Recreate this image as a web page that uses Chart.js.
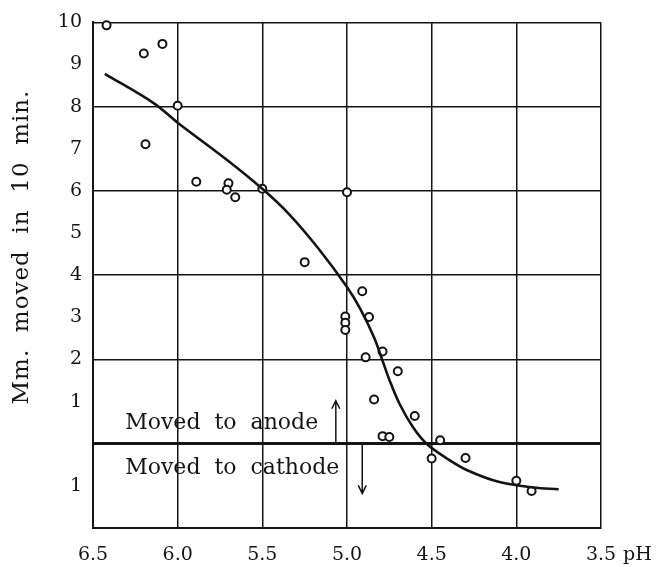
<!DOCTYPE html>
<html>
<head>
<meta charset="utf-8">
<script src="https://cdn.jsdelivr.net/npm/chart.js@4.4.1/dist/chart.umd.min.js"></script>
<style>
  html, body { margin: 0; padding: 0; background: #fff; }
  #wrap { width: 659px; height: 567px; }
</style>
</head>
<body>
<div id="wrap"><canvas id="myChart"></canvas></div>
<script>
// readings: pH and mm moved in 10 min (negative = moved to cathode)
const pointPH = [6.42, 6.20, 6.09, 6.00, 6.19, 5.89, 5.70, 5.71, 5.66, 5.50, 5.25, 5.00, 4.91, 5.01, 5.01, 5.01, 4.87, 4.89, 4.79, 4.70, 4.84, 4.60, 4.79, 4.75, 4.45, 4.50, 4.30, 4.00, 3.91];
const pointMm = [9.93, 9.26, 9.49, 8.02, 7.11, 6.22, 6.18, 6.03, 5.85, 6.05, 4.31, 5.97, 3.62, 3.02, 2.87, 2.70, 3.01, 2.05, 2.19, 1.72, 1.05, 0.66, 0.18, 0.16, 0.08, -0.35, -0.34, -0.88, -1.12];

// the smooth curve drawn through them
const curvePH = [6.43, 6.14, 6.00, 5.71, 5.50, 5.34, 5.17, 5.00, 4.92, 4.84, 4.79, 4.75, 4.69, 4.61, 4.53, 4.41, 4.29, 4.10, 3.90, 3.75];
const curveMm = [8.78, 8.08, 7.62, 6.74, 6.05, 5.44, 4.64, 3.72, 3.19, 2.52, 1.97, 1.52, 0.95, 0.39, 0.00, -0.35, -0.63, -0.91, -1.04, -1.08];

const phTicks = [6.5, 6.0, 5.5, 5.0, 4.5, 4.0, 3.5];
const mmTicks = [-2, -1, 0, 1, 2, 3, 4, 5, 6, 7, 8, 9, 10];
const mmTickLabels = ['', '1', '', '1', '2', '3', '4', '5', '6', '7', '8', '9', '10'];

const FONT = '"DejaVu Serif", "Liberation Serif", serif';
const INK = '#141414';

function arrow(ctx, x, y0, y1) {
    const dir = y1 < y0 ? -1 : 1;
    ctx.beginPath();
    ctx.moveTo(x, y0);
    ctx.lineTo(x, y1);
    ctx.moveTo(x - 4, y1 - dir * 8);
    ctx.lineTo(x, y1);
    ctx.lineTo(x + 4, y1 - dir * 8);
    ctx.stroke();
}

const notes = {
    id: 'notes',
    afterDraw(chart) {
        const ctx = chart.ctx;
        const x = chart.scales.x, y = chart.scales.y;
        ctx.save();
        ctx.fillStyle = INK;
        ctx.strokeStyle = INK;

        // y axis title
        ctx.save();
        ctx.font = '23px ' + FONT;
        ctx.letterSpacing = '1px';
        ctx.translate(28, 247);
        ctx.rotate(-Math.PI / 2);
        ctx.textAlign = 'center';
        ctx.textBaseline = 'alphabetic';
        ctx.fillText('Mm.  moved  in  10  min.', 0, 0);
        ctx.restore();

        // anode / cathode notes
        ctx.font = '22px ' + FONT;
        ctx.textAlign = 'left';
        ctx.textBaseline = 'alphabetic';
        ctx.fillText('Moved  to  anode', x.getPixelForValue(6.31), y.getPixelForValue(0.355));
        ctx.fillText('Moved  to  cathode', x.getPixelForValue(6.31), y.getPixelForValue(-0.71));
        ctx.lineWidth = 1.5;
        arrow(ctx, x.getPixelForValue(5.066), y.getPixelForValue(0.04), y.getPixelForValue(1.02));
        arrow(ctx, x.getPixelForValue(4.91), y.getPixelForValue(0), y.getPixelForValue(-1.18));

        // "pH" after the last tick label
        const items = x.getLabelItems ? x.getLabelItems() : [];
        const last = items.find(it => it.label === '3.5');
        if (last) {
            ctx.font = '19px ' + FONT;
            const w = ctx.measureText('3.5').width;
            ctx.textAlign = 'left';
            ctx.textBaseline = last.options.textBaseline;
            ctx.fillText('pH', last.options.translation[0] + w / 2 + 7, last.options.translation[1] + (last.textOffset || 0));
        }
        ctx.restore();
    }
};

const points = pointPH.map((p, i) => ({ x: p, y: pointMm[i] }));
const curve = curvePH.map((p, i) => ({ x: p, y: curveMm[i] }));

new Chart('myChart', {
    type: 'scatter',
    data: {
        datasets: [{
            label: 'curve',
            data: curve,
            showLine: true,
            borderColor: INK,
            borderWidth: 2.6,
            pointRadius: 0,
            tension: 0.35,
            fill: false
        }, {
            label: 'readings',
            data: points,
            pointStyle: 'circle',
            pointRadius: 4,
            pointBorderWidth: 2,
            pointBorderColor: INK,
            pointBackgroundColor: '#fff',
            clip: false
        }]
    },
    options: {
        responsive: true,
        maintainAspectRatio: false,
        animation: false,
        layout: { padding: { top: 20, right: 58, left: 0, bottom: 0 } },
        plugins: { legend: { display: false }, tooltip: { enabled: false } },
        scales: {
            x: {
                type: 'linear',
                reverse: true,
                min: 3.5,
                max: 6.5,
                afterBuildTicks: s => { s.ticks = phTicks.map(v => ({ value: v })); },
                afterFit: s => { s.height = 39; },
                grid: { color: INK, lineWidth: 1.5, drawTicks: false },
                border: { color: INK, width: 2 },
                ticks: {
                    callback: v => v.toFixed(1),
                    font: { family: FONT, size: 19 },
                    color: INK,
                    padding: 16,
                    maxRotation: 0,
                    autoSkip: false
                }
            },
            y: {
                type: 'linear',
                min: -2,
                max: 10,
                afterBuildTicks: s => { s.ticks = mmTicks.map(v => ({ value: v })); },
                afterFit: s => { s.width = 93; },
                grid: {
                    color: c => (c.tick && c.tick.value % 2 === 0) ? INK : 'rgba(0,0,0,0)',
                    lineWidth: c => (c.tick && c.tick.value === 0) ? 3 : 1.5,
                    drawTicks: false
                },
                border: { color: INK, width: 2 },
                ticks: {
                    callback: (v, i) => mmTickLabels[i],
                    font: { family: FONT, size: 19 },
                    color: INK,
                    padding: 11,
                    autoSkip: false
                }
            }
        }
    },
    plugins: [notes]
});
</script>
</body>
</html>
